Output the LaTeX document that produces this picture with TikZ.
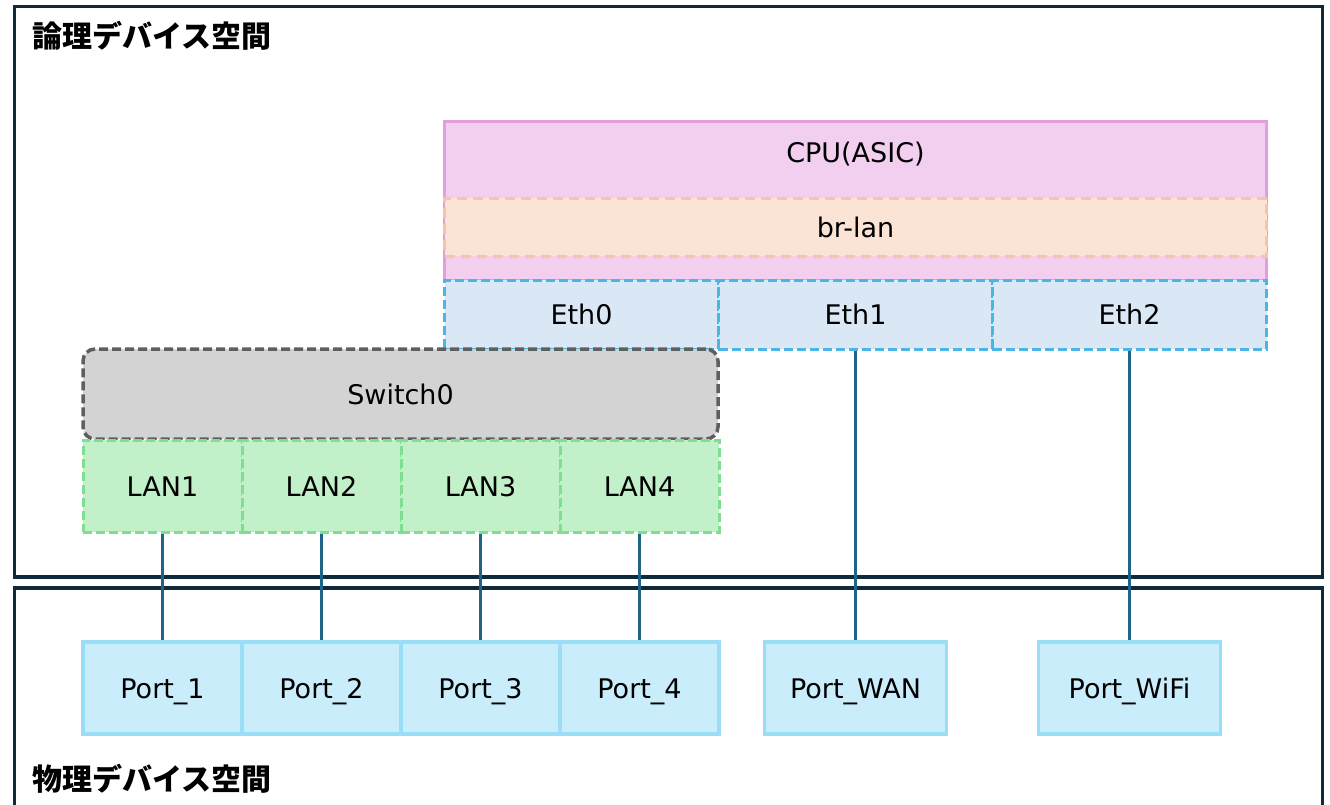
\documentclass[tikz,border=0pt]{standalone}
\usepackage{fontspec}
\setmainfont{DejaVu Sans}
\newfontfamily\jp{Noto Sans CJK JP}

\definecolor{framec}{HTML}{0F2A3B}
\definecolor{connc}{HTML}{1F6489}
\definecolor{cpufill}{HTML}{F2CEEF}
\definecolor{cpuline}{HTML}{E29FDD}
\definecolor{brfill}{HTML}{FBE3D6}
\definecolor{brline}{HTML}{F6C4A8}
\definecolor{ethfill}{HTML}{DAE8F6}
\definecolor{ethline}{HTML}{4BB5E6}
\definecolor{swfill}{HTML}{D3D3D3}
\definecolor{swline}{HTML}{5F5F5F}
\definecolor{lanfill}{HTML}{C2F0C8}
\definecolor{lanline}{HTML}{80DE93}
\definecolor{portfill}{HTML}{CAEDFB}
\definecolor{portline}{HTML}{99DDF7}

\tikzset{
  frame/.style={draw=framec, line width=3.5pt},
  title/.style={font=\jp\bfseries\fontsize{30}{34}\selectfont, anchor=west, inner sep=0pt},
  txt/.style={font=\fontsize{27}{32}\selectfont, text height=20pt, text depth=0pt},
  lbl/.style={txt, inner sep=0pt},
  blk/.style={rectangle, inner sep=0pt, txt},
  cpubox/.style={blk, draw=cpuline, fill=cpufill, line width=3pt},
  brbox/.style={blk, draw=brline, fill=brfill, line width=3pt, dash pattern=on 10pt off 6pt},
  ethbox/.style={blk, draw=ethline, fill=ethfill, line width=3pt, dash pattern=on 9pt off 4pt,
    minimum width=274pt, minimum height=69pt},
  swbox/.style={blk, draw=swline, fill=swfill, line width=3.5pt, dash pattern=on 9pt off 4pt,
    rounded corners=12pt},
  lanbox/.style={blk, draw=lanline, fill=lanfill, line width=3pt, dash pattern=on 9pt off 4pt,
    minimum width=159pt, minimum height=92pt},
  portbox/.style={blk, draw=portline, fill=portfill, line width=3.5pt,
    minimum height=92pt},
  conn/.style={draw=connc, line width=3.5pt}
}

\begin{document}
\begin{tikzpicture}[x=1pt, y=-1pt]
\useasboundingbox (0,0) rectangle (1330,804);

% logical and physical device spaces
\draw[frame] (14.5,6.5) rectangle (1322.5,577);
\draw[frame] (14.5,810) -- (14.5,588) -- (1322.5,588) -- (1322.5,810);
\node[title] (logtitle) at (32,36) {論理デバイス空間};
\node[title] (phytitle) at (32,779) {物理デバイス空間};

% CPU with bridge
\node[cpubox, minimum width=822pt, minimum height=159pt] (cpu) at (855.5,200.5) {};
\node[lbl] (cpulbl) at (855.5,152) {CPU(ASIC)};
\node[brbox, minimum width=822pt, minimum height=58pt] (brlan) at (855.5,227) {br-lan};

% CPU interfaces
\node[ethbox] (eth0) at (581.5,314.5) {Eth0};
\node[ethbox] (eth1) at (855.5,314.5) {Eth1};
\node[ethbox] (eth2) at (1129.5,314.5) {Eth2};

% switch and its LAN ports
\node[swbox, minimum width=635pt, minimum height=90pt] (sw) at (400.5,394) {Switch0};
\node[lanbox] (lan1) at (162.5,486) {LAN1};
\node[lanbox] (lan2) at (321.5,486) {LAN2};
\node[lanbox] (lan3) at (480.5,486) {LAN3};
\node[lanbox] (lan4) at (639.5,486) {LAN4};

% physical ports
\node[portbox, minimum width=159pt] (p1) at (162.5,688) {Port\_1};
\node[portbox, minimum width=159pt] (p2) at (321.5,688) {Port\_2};
\node[portbox, minimum width=159pt] (p3) at (480.5,688) {Port\_3};
\node[portbox, minimum width=159pt] (p4) at (639.5,688) {Port\_4};
\node[portbox, minimum width=182pt] (pwan) at (855.5,688) {Port\_WAN};
\node[portbox, minimum width=182pt] (pwifi) at (1129.5,688) {Port\_WiFi};

% links between logical and physical ports
\draw[conn] (lan1.south) -- (p1.north);
\draw[conn] (lan2.south) -- (p2.north);
\draw[conn] (lan3.south) -- (p3.north);
\draw[conn] (lan4.south) -- (p4.north);
\draw[conn] (eth1.south) -- (pwan.north);
\draw[conn] (eth2.south) -- (pwifi.north);
\end{tikzpicture}
\end{document}
